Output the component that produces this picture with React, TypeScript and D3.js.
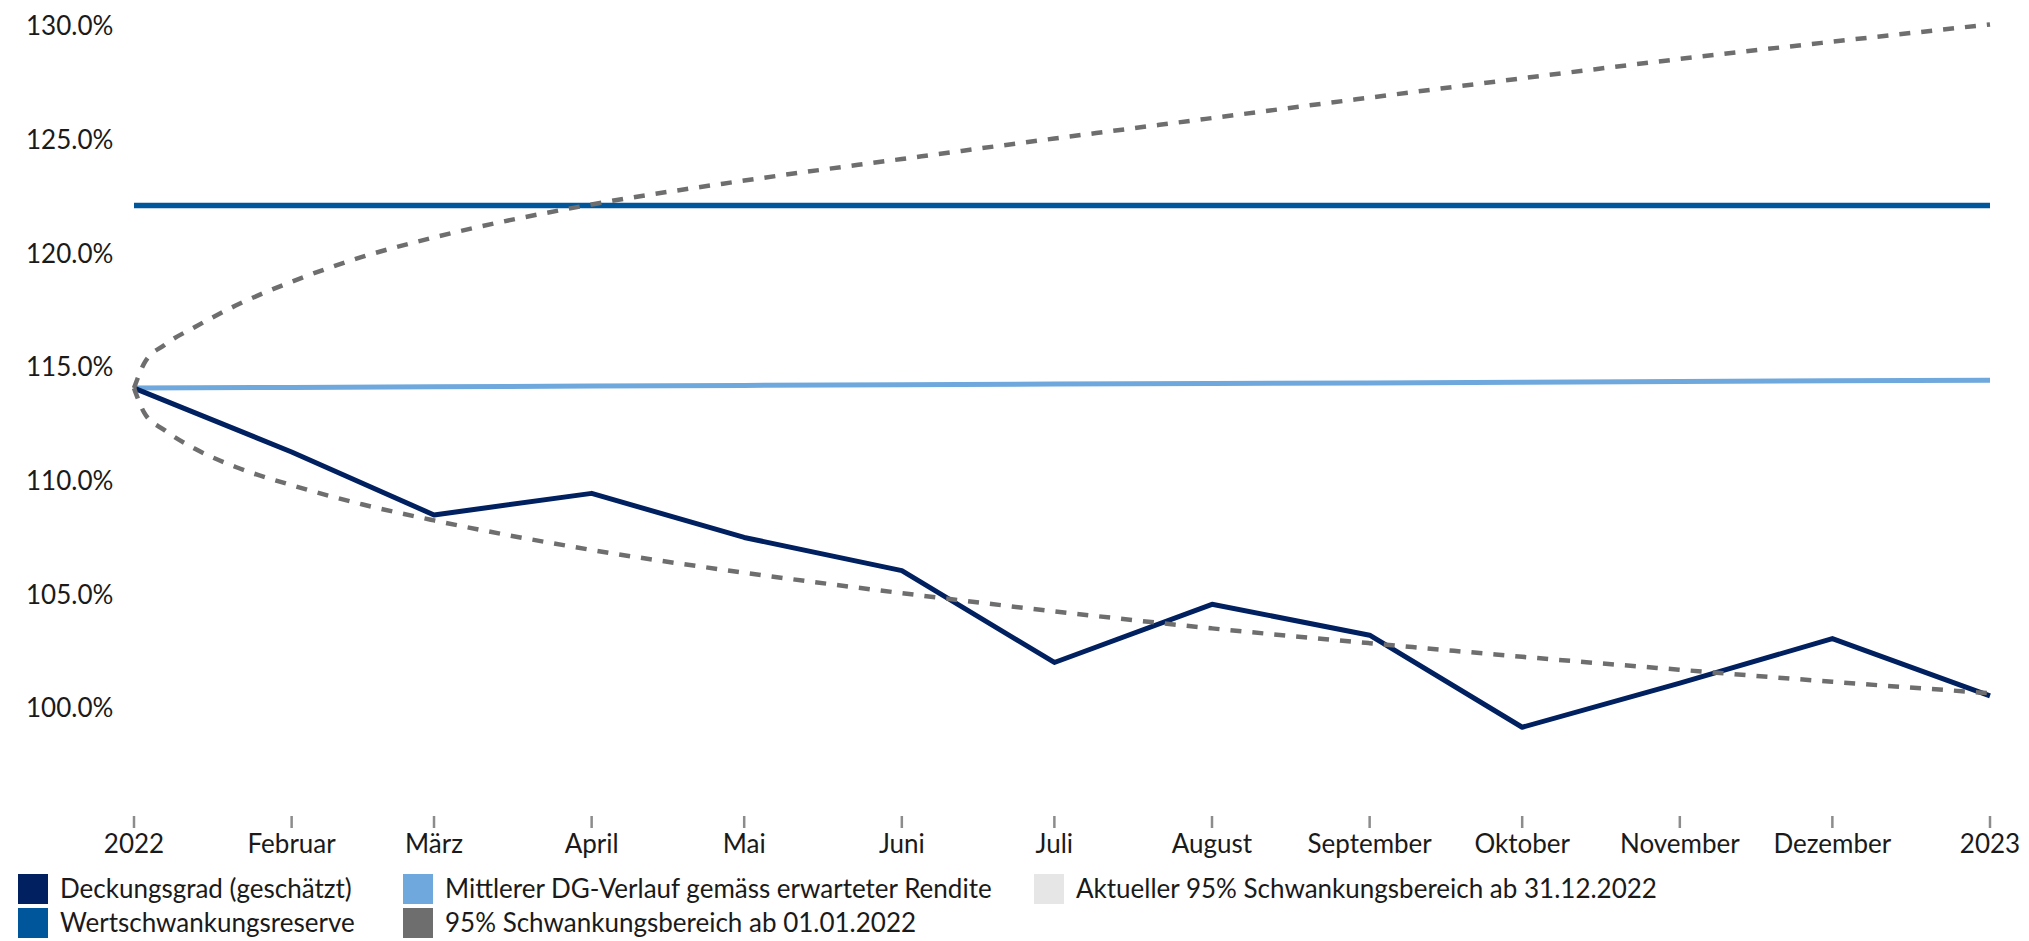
import { useEffect, useRef } from 'react';
import * as d3 from 'd3';

// month starts (x positions) and labels
const monthDates = [
  '2022-01-01', '2022-02-01', '2022-03-01', '2022-04-01', '2022-05-01', '2022-06-01', '2022-07-01',
  '2022-08-01', '2022-09-01', '2022-10-01', '2022-11-01', '2022-12-01', '2023-01-01',
];
const monthLabels = [
  '2022', 'Februar', 'März', 'April', 'Mai', 'Juni', 'Juli',
  'August', 'September', 'Oktober', 'November', 'Dezember', '2023',
];

// series values (%)
const deckungsgrad = [114.07, 111.26, 108.49, 109.44, 107.5, 106.04, 102.0, 104.56, 103.2, 99.15, 101.09, 103.05, 100.53];
const mittlererVerlauf = [114.07, 114.1, 114.13, 114.16, 114.19, 114.22, 114.25, 114.27, 114.3, 114.33, 114.36, 114.39, 114.42];
const wertschwankungsreserve = [122.1, 122.1, 122.1, 122.1, 122.1, 122.1, 122.1, 122.1, 122.1, 122.1, 122.1, 122.1, 122.1];

// 95% band since 01.01.2022, days after start
const bandDays = [0, 2, 6, 12, 20, 31, 45, 59, 90, 120, 151, 181, 212, 243, 273, 304, 334, 365];
const bandUpper = [114.07, 115.16, 115.97, 116.76, 117.7, 118.75, 119.85, 120.7, 122.15, 123.2, 124.15, 125.05, 125.95, 126.85, 127.7, 128.55, 129.31, 130.07];
const bandLower = [114.07, 112.99, 112.22, 111.4, 110.6, 109.8, 108.95, 108.25, 106.95, 105.95, 105.05, 104.25, 103.5, 102.85, 102.25, 101.68, 101.15, 100.65];

const yTicks = [100, 105, 110, 115, 120, 125, 130];

const legendItems = [
  { label: 'Deckungsgrad (geschätzt)', color: '#002060', col: 0, row: 0 },
  { label: 'Mittlerer DG-Verlauf gemäss erwarteter Rendite', color: '#6fa8dc', col: 1, row: 0 },
  { label: 'Aktueller 95% Schwankungsbereich ab 31.12.2022', color: '#e6e6e6', col: 2, row: 0 },
  { label: 'Wertschwankungsreserve', color: '#00569a', col: 0, row: 1 },
  { label: '95% Schwankungsbereich ab 01.01.2022', color: '#6e6e6e', col: 1, row: 1 },
];

const W = 2029;
const H = 941;
const FONT = 'Lato, "Noto Sans", sans-serif';

export default function App() {
  const svgRef = useRef<SVGSVGElement>(null);

  useEffect(() => {
    if (!svgRef.current) return;
    const svg = d3.select(svgRef.current);
    svg.selectAll('*').remove();

    const parse = d3.timeParse('%Y-%m-%d');
    const dates = monthDates.map(d => parse(d) as Date);
    const start = dates[0];

    const x = d3.scaleTime()
      .domain([dates[0], dates[dates.length - 1]])
      .range([134, 1990]);
    const y = d3.scaleLinear().domain([95, 130]).range([821.6, 26]);

    // y labels
    svg.append('g')
      .selectAll('text')
      .data(yTicks)
      .join('text')
      .attr('x', 26)
      .attr('y', d => y(d))
      .attr('dy', '0.36em')
      .attr('font-family', FONT)
      .attr('font-size', 26)
      .attr('fill', '#1a1a1a')
      .text(d => d3.format('.1f')(d) + '%');

    // x ticks + labels
    const xg = svg.append('g');
    xg.selectAll('line')
      .data(dates)
      .join('line')
      .attr('x1', d => x(d))
      .attr('x2', d => x(d))
      .attr('y1', 816)
      .attr('y2', 828)
      .attr('stroke', '#8c8c8c')
      .attr('stroke-width', 2.5);
    xg.selectAll('text')
      .data(dates)
      .join('text')
      .attr('x', d => x(d))
      .attr('y', 853)
      .attr('text-anchor', 'middle')
      .attr('font-family', FONT)
      .attr('font-size', 26)
      .attr('fill', '#1a1a1a')
      .text((_, i) => monthLabels[i]);

    const line = d3.line<[Date, number]>()
      .x(d => x(d[0]))
      .y(d => y(d[1]));

    const monthly = (vals: number[]) => vals.map((v, i) => [dates[i], v] as [Date, number]);

    svg.append('path')
      .attr('d', line(monthly(mittlererVerlauf)))
      .attr('fill', 'none')
      .attr('stroke', '#6fa8dc')
      .attr('stroke-width', 5);

    svg.append('path')
      .attr('d', line(monthly(wertschwankungsreserve)))
      .attr('fill', 'none')
      .attr('stroke', '#00569a')
      .attr('stroke-width', 5.5);

    svg.append('path')
      .attr('d', line(monthly(deckungsgrad)))
      .attr('fill', 'none')
      .attr('stroke', '#002060')
      .attr('stroke-width', 5)
      .attr('stroke-linejoin', 'round');

    const curve = d3.line<[Date, number]>()
      .x(d => x(d[0]))
      .y(d => y(d[1]))
      .curve(d3.curveMonotoneX);
    const band = (vals: number[]) => vals.map((v, i) => [d3.timeDay.offset(start, bandDays[i]), v] as [Date, number]);

    [bandUpper, bandLower].forEach(vals => {
      svg.append('path')
        .attr('d', curve(band(vals)))
        .attr('fill', 'none')
        .attr('stroke', '#6e6e6e')
        .attr('stroke-width', 4.5)
        .attr('stroke-dasharray', '11,11');
    });

    // legend
    const colX = [18, 403, 1034];
    const rowY = [889, 923];
    const lg = svg.append('g')
      .selectAll('g')
      .data(legendItems)
      .join('g')
      .attr('transform', d => `translate(${colX[d.col]},${rowY[d.row]})`);
    lg.append('rect')
      .attr('x', 0)
      .attr('y', -15)
      .attr('width', 30)
      .attr('height', 30)
      .attr('fill', d => d.color);
    lg.append('text')
      .attr('x', 42)
      .attr('y', 0)
      .attr('dy', '0.36em')
      .attr('font-family', FONT)
      .attr('font-size', 26)
      .attr('fill', '#1a1a1a')
      .text(d => d.label);
  }, []);

  return (
    <svg
      ref={svgRef}
      width={W}
      height={H}
      style={{ position: 'absolute', left: 0, top: 0, background: '#fff' }}
    />
  );
}
